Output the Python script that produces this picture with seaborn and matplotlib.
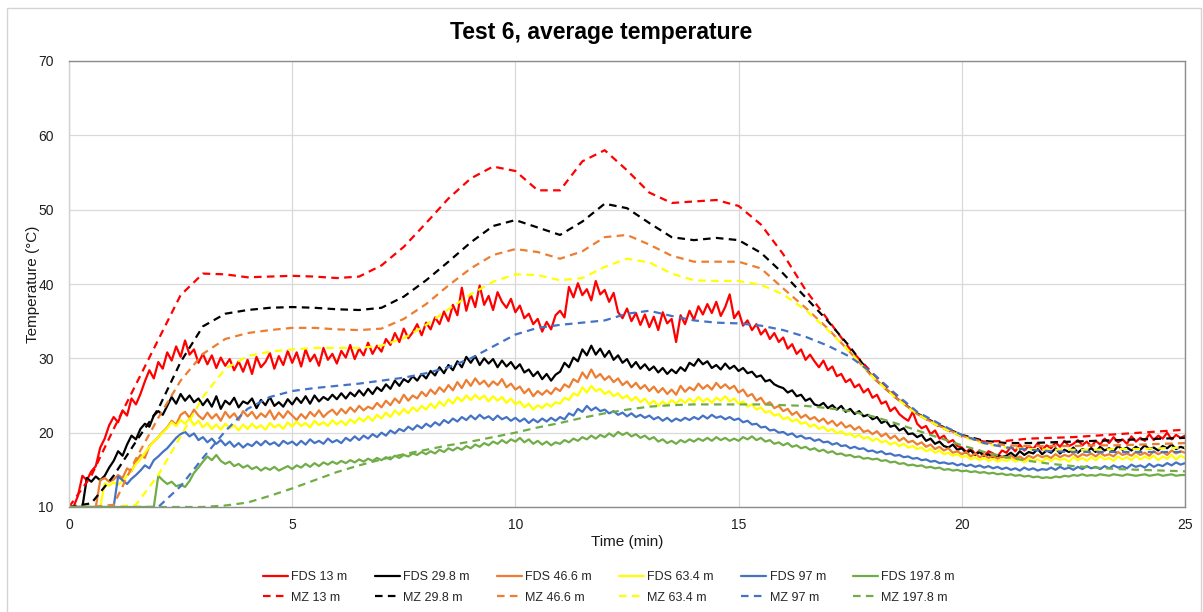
import numpy as np
import pandas as pd
import matplotlib
matplotlib.use("Agg")
import matplotlib.pyplot as plt
from matplotlib.patches import Rectangle
import seaborn as sns

# ---------------------------------------------------------------------------
# Data: average temperature (°C) against time (min)
# FDS results are sampled every 0.1 min, MZ (zone model) results every 0.5 min
# ---------------------------------------------------------------------------
fds_time = np.round(np.arange(251) * 0.1, 1)
mz_time = np.round(np.arange(51) * 0.5, 1)

labels_fds = ["FDS 13 m", "FDS 29.8 m", "FDS 46.6 m", "FDS 63.4 m", "FDS 97 m", "FDS 197.8 m"]
labels_mz = ["MZ 13 m", "MZ 29.8 m", "MZ 46.6 m", "MZ 63.4 m", "MZ 97 m", "MZ 197.8 m"]
colors = ["#FF0000", "#000000", "#ED7D31", "#FFFF00", "#4472C4", "#70AD47"]

fds_13 = [
    10.0, 10.0, 11.5, 14.2, 13.6, 14.8, 15.5, 18.0, 19.2, 21.0,
    22.1, 21.4, 23.0, 22.3, 24.6, 23.8, 25.2, 26.9, 28.4, 27.3,
    29.5, 28.6, 30.8, 29.7, 31.6, 30.2, 32.4, 30.5, 31.2, 29.4,
    30.6, 29.2, 30.4, 28.7, 30.1, 29.0, 29.9, 28.4, 29.6, 28.2,
    29.8, 27.9, 30.2, 28.8, 29.5, 30.7, 28.6, 30.3, 29.1, 31.0,
    29.4, 30.8, 28.9, 31.2, 29.6, 30.5, 29.0, 31.4, 29.8, 30.6,
    29.3, 31.0, 30.1, 31.8, 29.9, 31.3, 30.4, 32.1, 30.6, 31.7,
    30.9, 32.6, 31.8, 33.4, 32.2, 34.0, 32.7, 33.5, 34.6, 33.1,
    34.8, 33.9, 35.5, 34.6, 36.3, 35.0, 37.2, 35.8, 39.5, 36.4,
    38.6, 36.9, 39.8, 37.2, 38.4, 36.5, 38.9, 37.6, 36.8, 38.0,
    36.2, 37.1, 35.4, 36.0, 34.6, 35.3, 33.6, 34.9, 33.9, 35.8,
    36.4, 35.5, 39.6, 38.2, 40.1, 38.5, 39.3, 37.8, 40.4, 38.6,
    39.2, 37.6, 38.8, 36.2, 35.4, 36.7, 35.0, 36.1, 34.5, 35.9,
    34.2, 35.6, 33.8, 36.2, 34.7, 35.3, 32.2, 35.8, 34.6, 36.4,
    35.2, 37.0, 35.9, 37.3, 36.1, 37.6, 35.7, 36.9, 38.6, 35.4,
    36.3, 34.4, 35.1, 33.8, 34.6, 33.2, 33.9, 32.6, 33.4, 32.2,
    32.8, 31.3, 31.9, 30.6, 31.2, 29.8, 30.5, 29.6, 28.8, 29.7,
    28.4, 28.9, 27.6, 27.9, 26.8, 27.2, 26.1, 26.5, 25.4, 25.9,
    24.7, 25.1, 23.9, 24.2, 22.9, 23.4, 22.5, 22.0, 21.6, 22.8,
    21.2, 20.6, 20.9, 19.8, 20.3, 19.2, 19.6, 18.7, 19.0, 18.2,
    18.0, 17.4, 17.9, 17.1, 17.6, 16.9, 17.5, 17.2, 16.8, 17.6,
    17.3, 18.1, 17.5, 18.4, 17.6, 18.2, 17.8, 18.6, 17.7, 18.3,
    17.9, 18.7, 18.1, 18.9, 18.2, 18.5, 19.0, 18.3, 18.8, 18.1,
    18.9, 18.4, 19.2, 18.6, 19.4, 18.7, 19.1, 18.5, 19.5, 18.8,
    19.3, 18.9, 19.8, 19.0, 19.6, 19.2, 20.0, 19.1, 19.7, 19.3,
    19.6,
]

fds_29_8 = [
    10.0, 10.0, 10.0, 10.0, 13.9, 13.4, 14.1, 13.6, 14.2, 15.3,
    16.2, 17.5, 16.9, 18.4, 19.6, 19.1, 20.5, 21.2, 20.8, 22.3,
    22.9, 22.4, 23.6, 24.8, 23.9, 25.2, 24.3, 25.0, 24.1, 24.6,
    23.7, 24.5, 23.5, 24.9, 23.2, 24.3, 23.8, 24.7, 23.4, 24.2,
    23.9, 24.6, 23.3, 24.4, 23.7, 24.8, 23.6, 24.1, 23.5, 24.5,
    23.8, 24.7, 24.0, 24.9, 23.9, 25.0, 24.2, 24.8, 24.4, 25.1,
    24.5, 25.3, 24.6, 25.4, 24.9, 25.7, 25.0, 25.9, 25.2, 26.1,
    25.6, 26.5, 25.9, 27.0, 26.3, 27.2, 26.8, 27.6, 27.0, 27.9,
    27.3, 28.3, 27.7, 28.8, 28.0, 29.1, 28.4, 29.6, 28.8, 30.2,
    29.4, 30.3, 29.1, 30.0, 29.3, 29.9, 28.8, 29.7, 28.9, 29.5,
    28.6, 29.2, 28.1, 28.5, 27.6, 28.2, 27.2, 27.9, 27.0, 27.8,
    28.2, 29.4, 28.8, 30.1, 29.6, 31.2, 30.4, 31.7, 30.5, 31.3,
    30.2, 31.0, 29.8, 30.4, 29.4, 29.9, 28.8, 29.5, 28.6, 29.2,
    28.4, 28.9, 28.1, 28.7, 27.9, 28.5, 28.0, 28.8, 28.3, 29.4,
    29.0, 29.9, 29.2, 29.6, 28.7, 29.1, 28.5, 29.3, 28.6, 29.0,
    28.3, 28.7, 28.0, 28.2, 27.5, 27.7, 26.9, 27.1, 26.5, 26.2,
    26.0, 25.4, 25.7, 24.9, 25.1, 24.3, 24.6, 23.8, 23.6, 24.0,
    23.3, 23.7, 23.1, 23.6, 22.8, 23.2, 22.5, 22.9, 22.2, 22.4,
    21.8, 22.1, 21.3, 21.6, 20.8, 21.0, 20.3, 20.6, 19.8, 19.9,
    19.4, 19.7, 18.9, 19.2, 18.5, 18.8, 18.2, 18.0, 18.4, 17.7,
    17.9, 17.3, 17.6, 17.0, 17.4, 16.8, 17.1, 16.6, 17.0, 16.7,
    16.9, 17.3, 16.8, 17.5, 17.0, 17.4, 17.2, 17.8, 17.1, 17.6,
    17.3, 17.9, 17.2, 17.7, 17.4, 18.0, 17.3, 17.8, 17.5, 17.9,
    17.4, 18.1, 17.6, 17.9, 17.5, 18.2, 17.7, 18.0, 17.6, 18.1,
    17.7, 18.3, 17.8, 18.0, 17.6, 18.2, 17.9, 18.4, 17.8, 18.1,
    17.9,
]

fds_46_6 = [
    10.0, 10.0, 10.0, 10.0, 10.0, 10.0, 10.0, 13.6, 13.9, 13.4,
    13.7, 14.3, 13.9, 15.2, 14.8, 16.1, 17.0, 16.6, 18.2, 18.8,
    19.4, 20.1, 20.7, 21.6, 21.1, 22.4, 22.8, 22.0, 23.1, 22.3,
    21.8, 22.7, 21.9, 22.5, 21.6, 22.8, 22.0, 22.6, 21.7, 22.9,
    22.2, 22.8, 21.9, 22.6, 22.1, 23.0, 21.8, 22.7, 22.0, 22.9,
    22.3, 21.7, 22.5, 21.9, 22.8, 22.2, 23.0, 22.1, 22.7, 23.1,
    22.4, 23.2, 22.6, 23.4, 22.8, 23.6, 23.0, 23.5, 23.2, 24.0,
    23.4, 24.3, 23.7, 24.6, 24.0, 25.1, 24.3, 25.0, 24.6, 25.5,
    24.9, 25.8, 25.2, 26.1, 25.5, 26.4, 25.7, 26.8, 26.0, 27.1,
    26.3, 27.3, 26.5, 27.0, 26.2, 26.9, 26.4, 27.2, 26.1, 26.6,
    25.8, 26.2, 25.3, 25.9, 24.9, 25.6, 25.1, 25.7, 25.2, 26.0,
    25.6, 26.5, 26.1, 27.2, 26.8, 28.1, 27.3, 28.5, 27.4, 27.9,
    27.1, 27.6, 26.8, 27.3, 26.4, 26.9, 26.1, 26.7, 25.9, 26.4,
    25.6, 26.2, 25.4, 26.0, 25.2, 25.8, 25.1, 26.3, 25.5, 26.1,
    25.7, 26.6, 25.9, 26.4, 25.8, 26.7, 26.0, 26.5, 25.9, 26.3,
    25.4, 25.8, 24.9, 25.2, 24.3, 24.7, 23.8, 24.1, 23.3, 23.6,
    22.9, 23.2, 22.4, 22.8, 22.0, 22.4, 21.8, 22.1, 21.5, 21.9,
    21.2, 21.6, 20.9, 21.4, 20.7, 21.0, 20.4, 20.8, 20.1, 20.3,
    19.8, 20.2, 19.5, 19.9, 19.2, 19.6, 18.9, 19.3, 18.7, 18.9,
    18.4, 18.7, 18.1, 18.4, 17.8, 18.1, 17.6, 17.9, 17.3, 17.5,
    17.1, 17.4, 16.8, 17.2, 16.7, 17.0, 16.6, 16.9, 16.5, 16.8,
    16.6, 16.9, 16.5, 16.8, 16.4, 16.9, 16.6, 17.0, 16.7, 16.9,
    16.6, 17.1, 16.7, 17.0, 16.8, 17.2, 16.7, 17.1, 16.9, 17.2,
    16.8, 17.3, 16.9, 17.1, 16.8, 17.4, 17.0, 17.2, 16.9, 17.4,
    17.0, 17.3, 16.9, 17.5, 17.1, 17.4, 17.0, 17.6, 17.2, 17.5,
    17.3,
]

fds_63_4 = [
    10.0, 10.0, 10.0, 10.0, 10.0, 10.0, 10.0, 10.0, 13.2, 12.9,
    13.3, 13.0, 13.5, 14.2, 14.9, 15.8, 16.4, 17.3, 18.1, 18.8,
    19.4, 20.0, 20.6, 21.4, 20.9, 21.7, 21.2, 21.9, 21.0, 21.6,
    20.7, 21.3, 20.5, 21.1, 20.4, 21.2, 20.6, 21.0, 20.3, 21.1,
    20.5, 21.2, 20.6, 21.0, 20.4, 21.3, 20.7, 21.1, 20.5, 21.4,
    20.8, 21.5, 20.9, 21.3, 20.7, 21.6, 21.0, 21.4, 20.9, 21.7,
    21.1, 21.6, 21.0, 21.8, 21.3, 22.0, 21.5, 22.2, 21.6, 22.4,
    21.9, 22.7, 22.1, 23.0, 22.4, 23.2, 22.6, 23.4, 22.9, 23.6,
    23.1, 23.9, 23.3, 24.2, 23.6, 24.5, 23.9, 24.8, 24.2, 25.0,
    24.4, 25.1, 24.5, 25.0, 24.2, 24.9, 24.3, 24.8, 24.0, 24.6,
    23.8, 24.2, 23.4, 23.9, 23.1, 23.7, 23.3, 23.9, 23.5, 24.1,
    23.9, 24.7, 24.4, 25.3, 25.0, 26.1, 25.4, 26.3, 25.6, 25.9,
    25.2, 25.6, 24.9, 25.3, 24.6, 25.0, 24.3, 24.8, 24.1, 24.6,
    23.8, 24.3, 23.6, 24.2, 23.7, 24.4, 23.9, 24.5, 24.0, 24.6,
    24.1, 24.8, 24.2, 24.6, 24.0, 24.7, 24.3, 24.9, 24.2, 24.6,
    23.9, 24.2, 23.5, 23.8, 23.1, 23.4, 22.7, 22.9, 22.3, 22.5,
    21.8, 22.1, 21.5, 21.8, 21.2, 21.4, 20.8, 21.1, 20.5, 20.8,
    20.2, 20.5, 19.9, 20.2, 19.7, 19.9, 19.4, 19.7, 19.2, 19.4,
    18.9, 19.2, 18.7, 18.9, 18.4, 18.7, 18.2, 18.5, 18.0, 18.2,
    17.8, 18.0, 17.5, 17.8, 17.3, 17.6, 17.1, 17.3, 16.9, 17.1,
    16.7, 16.9, 16.4, 16.7, 16.3, 16.6, 16.2, 16.5, 16.1, 16.4,
    16.2, 16.5, 16.1, 16.4, 16.0, 16.5, 16.2, 16.4, 16.1, 16.6,
    16.2, 16.6, 16.3, 16.5, 16.1, 16.7, 16.3, 16.6, 16.2, 16.7,
    16.3, 16.8, 16.4, 16.6, 16.2, 16.8, 16.4, 16.7, 16.3, 16.9,
    16.4, 16.8, 16.5, 16.9, 16.3, 16.8, 16.5, 17.0, 16.4, 16.9,
    16.6,
]

fds_97 = [
    10.0, 10.0, 10.0, 10.0, 10.0, 10.0, 10.0, 10.0, 10.0, 10.0,
    10.0, 14.1, 13.6, 13.1, 13.8, 14.3, 14.9, 15.6, 15.2, 16.3,
    16.8, 17.4, 17.9, 18.6, 19.3, 19.8, 20.1, 19.5, 19.9, 19.0,
    19.4, 18.7, 19.2, 18.5, 19.0, 18.3, 18.8, 18.1, 18.6, 18.0,
    18.5, 18.2, 18.8, 18.3, 18.9, 18.4, 18.7, 18.2, 18.9, 18.5,
    18.8, 18.3, 18.9, 18.4, 19.1, 18.6, 18.9, 18.5, 19.2, 18.7,
    19.0, 18.6, 19.3, 18.9, 19.5, 19.0, 19.6, 19.2, 19.8, 19.4,
    20.0, 19.6, 20.3, 19.9, 20.5, 20.2, 20.8, 20.4, 21.0, 20.6,
    21.2, 20.8, 21.4, 21.0, 21.7, 21.3, 21.9, 21.5, 22.1, 21.7,
    22.3, 21.8, 22.4, 21.9, 22.2, 21.7, 22.3, 21.8, 22.1, 21.6,
    22.0, 21.5, 21.9, 21.3, 21.8, 21.4, 21.9, 21.5, 22.0, 21.6,
    22.1, 21.8, 22.6, 22.3, 23.2, 22.8, 23.6, 23.0, 23.4, 22.9,
    23.1, 22.6, 22.9, 22.4, 22.7, 22.2, 22.6, 22.1, 22.4, 22.0,
    22.3, 21.8, 22.1, 21.6, 22.0, 21.5, 21.9, 21.6, 22.0, 21.7,
    22.1, 21.8, 22.3, 21.9, 22.4, 22.0, 22.2, 21.8, 22.1, 21.7,
    21.9, 21.4, 21.6, 21.1, 21.2, 20.7, 20.8, 20.3, 20.4, 20.0,
    20.1, 19.7, 19.9, 19.4, 19.6, 19.2, 19.3, 18.9, 19.1, 18.7,
    18.8, 18.4, 18.6, 18.2, 18.3, 17.9, 18.1, 17.8, 17.9, 17.5,
    17.6, 17.3, 17.5, 17.1, 17.2, 16.9, 17.0, 16.7, 16.8, 16.5,
    16.6, 16.3, 16.4, 16.1, 16.2, 15.9, 16.0, 15.8, 15.9, 15.6,
    15.8, 15.5, 15.7, 15.4, 15.6, 15.3, 15.5, 15.2, 15.4, 15.1,
    15.3, 15.0, 15.2, 14.9, 15.3, 15.0, 15.2, 14.9, 15.1, 15.0,
    15.3, 15.0, 15.4, 15.1, 15.3, 15.0, 15.4, 15.1, 15.5, 15.2,
    15.4, 15.1, 15.5, 15.2, 15.6, 15.3, 15.5, 15.2, 15.7, 15.4,
    15.6, 15.3, 15.8, 15.4, 15.7, 15.5, 15.9, 15.6, 16.0, 15.7,
    15.9,
]

fds_197_8 = [
    10.0, 10.0, 10.0, 10.0, 10.0, 10.0, 10.0, 10.0, 10.0, 10.0,
    10.0, 10.0, 10.0, 10.0, 10.0, 10.0, 10.0, 10.0, 10.0, 10.0,
    14.2, 13.6, 13.1, 13.4, 12.8, 13.0, 12.7, 13.5, 14.6, 15.3,
    16.1, 16.8, 16.3, 17.0, 16.2, 15.8, 16.1, 15.5, 15.8, 15.3,
    15.6, 15.1, 15.4, 14.9, 15.3, 15.0, 15.4, 14.9, 15.2, 15.5,
    15.1, 15.6, 15.3, 15.8, 15.4, 15.9, 15.5, 16.0, 15.7, 16.1,
    15.8, 16.2, 15.9, 16.3, 16.0, 16.4, 16.1, 16.5, 16.2, 16.6,
    16.3, 16.7, 16.4, 16.9, 16.6, 17.0, 16.8, 17.2, 17.0, 17.4,
    17.1, 17.5, 17.2, 17.7, 17.4, 17.9, 17.6, 18.0, 17.7, 18.2,
    17.9, 18.4, 18.1, 18.6, 18.3, 18.8, 18.5, 19.0, 18.6, 19.1,
    18.8, 19.3, 18.7, 19.1, 18.5, 18.9, 18.4, 18.8, 18.3, 18.7,
    18.5, 19.0, 18.7, 19.2, 18.9, 19.4, 19.1, 19.6, 19.2, 19.7,
    19.4, 19.9, 19.5, 20.1, 19.7, 20.0, 19.5, 19.8, 19.3, 19.6,
    19.1, 19.4, 18.8, 19.1, 18.6, 18.9, 18.5, 19.0, 18.7, 19.1,
    18.8, 19.2, 18.9, 19.3, 18.9, 19.4, 19.0, 19.3, 18.9, 19.2,
    18.9, 19.4, 19.1, 19.5, 19.0, 19.3, 18.8, 19.0, 18.5, 18.7,
    18.3, 18.6, 18.1, 18.3, 17.9, 18.1, 17.7, 17.9, 17.5, 17.7,
    17.3, 17.5, 17.1, 17.2, 16.9, 17.0, 16.7, 16.8, 16.5, 16.6,
    16.4, 16.5, 16.2, 16.3, 16.0, 16.1, 15.8, 15.9, 15.6, 15.7,
    15.5, 15.6, 15.3, 15.4, 15.2, 15.3, 15.0, 15.1, 14.9, 15.0,
    14.8, 14.9, 14.7, 14.8, 14.6, 14.7, 14.5, 14.6, 14.4, 14.5,
    14.3, 14.4, 14.2, 14.3, 14.1, 14.2, 14.0, 14.1, 13.9, 14.0,
    13.9, 14.1, 14.0, 14.2, 14.1, 14.3, 14.2, 14.4, 14.2, 14.3,
    14.2, 14.4, 14.3, 14.2, 14.4, 14.3, 14.2, 14.4, 14.3, 14.2,
    14.3, 14.4, 14.2, 14.3, 14.4, 14.2, 14.3, 14.4, 14.2, 14.3,
    14.3,
]

mz_13 = [
    10.0, 14.2, 20.5, 26.5, 32.5, 38.5, 41.4, 41.3, 40.9, 41.0,
    41.1, 41.0, 40.8, 41.0, 42.5, 45.0, 48.2, 51.5, 54.2, 55.8,
    55.2, 52.6, 52.6, 56.5, 58.0, 55.3, 52.3, 50.9, 51.1, 51.3,
    50.5, 48.0, 44.0, 39.2, 35.2, 31.2, 28.0, 25.0, 22.5, 20.8,
    19.5, 18.8, 18.9, 19.2, 19.3, 19.4, 19.6, 19.8, 20.0, 20.2,
    20.4,
]
mz_29_8 = [
    10.0, 10.5, 14.2, 18.8, 23.2, 29.5, 34.3, 36.0, 36.5, 36.8,
    36.9, 36.8, 36.6, 36.5, 36.8, 38.3, 40.5, 43.0, 45.6, 47.8,
    48.6, 47.6, 46.6, 48.4, 50.8, 50.2, 48.2, 46.3, 45.9, 46.2,
    45.9, 44.2, 41.4, 38.2, 35.0, 31.5, 27.5, 24.8, 22.6, 21.0,
    19.7, 18.9, 18.6, 18.6, 18.7, 18.8, 18.9, 19.0, 19.1, 19.2,
    19.3,
]
mz_46_6 = [
    10.0, 10.0, 10.3, 16.5, 22.0, 27.0, 30.6, 32.6, 33.4, 33.8,
    34.1, 34.1, 33.9, 33.8, 34.0, 35.3, 37.3, 39.8, 42.1, 43.9,
    44.7, 44.3, 43.4, 44.4, 46.3, 46.6, 45.3, 43.8, 43.0, 43.0,
    43.0, 42.1, 39.4, 36.8, 34.0, 30.8, 27.5, 24.8, 22.5, 20.9,
    19.6, 18.7, 18.3, 18.2, 18.2, 18.2, 18.3, 18.3, 18.4, 18.5,
    18.6,
]
mz_63_4 = [
    10.0, 10.0, 10.0, 10.3, 14.3, 19.5, 24.8, 28.6, 30.3, 30.9,
    31.2, 31.4, 31.4, 31.4, 31.7, 32.7, 34.5, 36.6, 38.6, 40.3,
    41.3, 41.2, 40.5, 40.8, 42.3, 43.4, 42.9, 41.4, 40.5, 40.4,
    40.4, 39.9, 38.6, 36.5, 33.8, 30.8, 27.5, 24.8, 22.5, 20.8,
    19.5, 18.5, 18.0, 17.8, 17.7, 17.7, 17.7, 17.8, 17.8, 17.9,
    18.0,
]
mz_97 = [
    10.0, 10.0, 10.0, 10.0, 10.0, 12.8, 16.6, 20.2, 23.2, 24.8,
    25.6, 26.0, 26.3, 26.6, 27.0, 27.4, 28.0, 28.8, 30.0, 31.6,
    33.2, 34.1, 34.5, 34.8, 35.1, 36.0, 36.4, 35.7, 35.1, 34.8,
    34.7, 34.4, 33.8, 32.9, 31.7, 30.2, 28.0, 25.3, 22.8, 21.2,
    19.7, 18.6, 18.0, 17.7, 17.5, 17.4, 17.4, 17.4, 17.4, 17.4,
    17.4,
]
mz_197_8 = [
    10.0, 10.0, 10.0, 10.0, 10.0, 10.0, 10.0, 10.2, 10.6, 11.5,
    12.5, 13.6, 14.7, 15.6, 16.4, 17.1, 17.7, 18.3, 18.8, 19.4,
    20.0, 20.7, 21.3, 22.0, 22.6, 23.1, 23.5, 23.7, 23.8, 23.8,
    23.8, 23.8, 23.7, 23.6, 23.3, 22.9, 22.2, 21.3, 20.3, 19.3,
    18.3, 17.4, 16.7, 16.2, 15.8, 15.5, 15.3, 15.1, 15.0, 14.9,
    14.8,
]

fds_series = [fds_13, fds_29_8, fds_46_6, fds_63_4, fds_97, fds_197_8]
mz_series = [mz_13, mz_29_8, mz_46_6, mz_63_4, mz_97, mz_197_8]

# ---------------------------------------------------------------------------
# Figure
# ---------------------------------------------------------------------------
sns.set_theme(style="white")
plt.rcParams["font.family"] = ["Liberation Sans", "DejaVu Sans"]

W, H = 1203, 612
fig = plt.figure(figsize=(W / 100, H / 100), dpi=100)
fig.patch.set_facecolor("white")

# light chart-area frame
fig.patches.append(Rectangle((7 / W, -0.02), (1201 - 7) / W, 1.02 - 8 / H,
                             transform=fig.transFigure, fill=False,
                             edgecolor="#d4d4d4", linewidth=1.0))

ax = fig.add_axes([69 / W, 1 - 507 / H, (1185 - 69) / W, (507 - 61) / H])

lw = 1.6
dash = (0, (3.4, 2.4))
fds_lines, mz_lines = [], []
for vals, lab, col in zip(fds_series, labels_fds, colors):
    df = pd.DataFrame({"t": fds_time, "T": vals})
    sns.lineplot(data=df, x="t", y="T", ax=ax, color=col, linewidth=lw,
                 label=lab, legend=False, estimator=None)
    fds_lines.append(ax.lines[-1])
for vals, lab, col in zip(mz_series, labels_mz, colors):
    df = pd.DataFrame({"t": mz_time, "T": vals})
    sns.lineplot(data=df, x="t", y="T", ax=ax, color=col, linewidth=lw,
                 linestyle=dash, label=lab, legend=False, estimator=None)
    mz_lines.append(ax.lines[-1])

ax.set_xlim(0, 25)
ax.set_ylim(10, 70)
ax.set_xticks(np.arange(0, 26, 5))
ax.set_yticks(np.arange(10, 71, 10))
ax.grid(True, color="#d9d9d9", linewidth=0.9)
ax.set_axisbelow(True)
ax.tick_params(axis="both", length=0, labelsize=10, labelcolor="#1f1f1f")
ax.tick_params(axis="x", pad=8)
ax.tick_params(axis="y", pad=11)
for side in ["top", "right", "bottom"]:
    ax.spines[side].set_color("#8c8c8c")
    ax.spines[side].set_linewidth(1.0)
ax.spines["left"].set_color("#d0d0d0")
ax.spines["left"].set_linewidth(1.0)

ax.set_xlabel("Time (min)", fontsize=11, color="#1a1a1a")
ax.set_ylabel("Temperature (°C)", fontsize=11, color="#1a1a1a")
ax.xaxis.set_label_coords(0.5, (507 - 542) / (507 - 61))
ax.xaxis.label.set_va("center")
ax.yaxis.set_label_coords((33 - 69) / (1185 - 69), 0.5)
ax.yaxis.label.set_va("center")

fig.text(0.5, 1 - 32 / H, "Test 6, average temperature", ha="center", va="center",
         fontsize=16.5, fontweight="bold", color="black")

handles, labs = [], []
for f, m, lf, lm in zip(fds_lines, mz_lines, labels_fds, labels_mz):
    handles += [f, m]
    labs += [lf, lm]
fig.legend(handles, labs, ncol=6, loc="center", bbox_to_anchor=(609 / W, 1 - 587.5 / H),
           frameon=False, fontsize=9, handlelength=2.0, handletextpad=0.25,
           columnspacing=2.2, labelspacing=0.68)

fig.savefig("out.png", dpi=100, facecolor="white")
